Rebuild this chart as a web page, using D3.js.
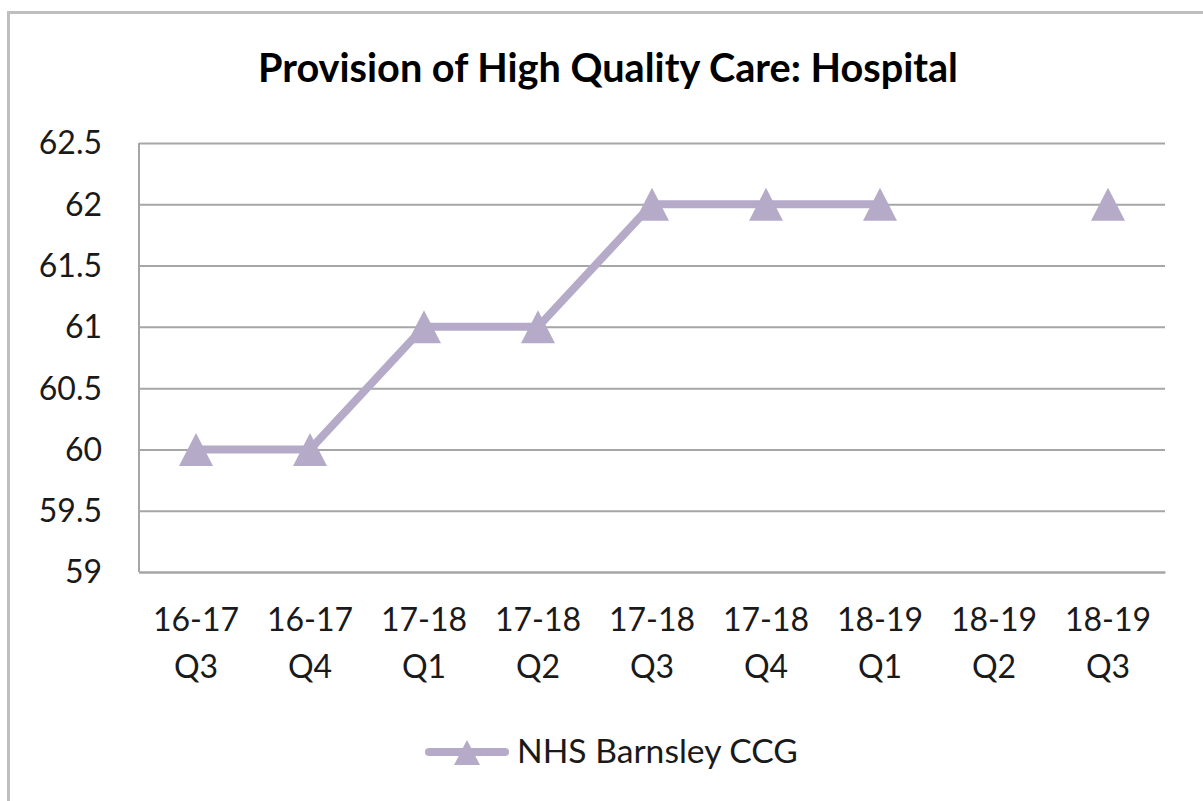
<!DOCTYPE html>
<html>
<head>
<meta charset="utf-8">
<script src="https://cdn.jsdelivr.net/npm/d3@7"></script>
<style>
  html, body { margin: 0; padding: 0; background: #ffffff; }
  svg { display: block; }
</style>
</head>
<body>
<div id="chart"></div>
<script>
// ---- Data ----
const title = "Provision of High Quality Care: Hospital";
const seriesName = "NHS Barnsley CCG";
const categories = [
  ["16-17", "Q3"], ["16-17", "Q4"], ["17-18", "Q1"], ["17-18", "Q2"],
  ["17-18", "Q3"], ["17-18", "Q4"], ["18-19", "Q1"], ["18-19", "Q2"], ["18-19", "Q3"]
];
const values = [60, 60, 61, 61, 62, 62, 62, null, 62];
const yTicks = [59, 59.5, 60, 60.5, 61, 61.5, 62, 62.5];

// ---- Layout ----
const W = 1203, H = 801;
const plot = { left: 139, right: 1165, top: 143, bottom: 572 };
const lineColor = "#b5abc9";
const gridColor = "#a6a6a6";
const textColor = "#1a1a1a";
const fontFamily = "Lato, 'Open Sans', 'Liberation Sans', sans-serif";

const svg = d3.select("#chart").append("svg")
  .attr("width", W).attr("height", H);

svg.append("rect").attr("width", W).attr("height", H).attr("fill", "#fff");

// outer chart border (extends beyond right/bottom edge)
svg.append("rect")
  .attr("x", 8.5).attr("y", 12.5)
  .attr("width", W + 50).attr("height", H + 50)
  .attr("fill", "none").attr("stroke", "#bfbfbf").attr("stroke-width", 3);

const x = d3.scaleBand()
  .domain(categories.map((d, i) => i))
  .range([plot.left, plot.right])
  .padding(0);

const y = d3.scaleLinear()
  .domain([59, 62.5])
  .range([plot.bottom, plot.top]);

// gridlines
const yAxis = d3.axisLeft(y).tickValues(yTicks)
  .tickSize(-(plot.right - plot.left)).tickPadding(37)
  .tickFormat(d => d3.format("")(d));
const gy = svg.append("g").attr("transform", `translate(${plot.left},0)`).call(yAxis);
gy.select(".domain").remove();
gy.selectAll(".tick line").attr("stroke", gridColor).attr("stroke-width", 2);
gy.selectAll(".tick text")
  .attr("fill", textColor)
  .style("font-family", fontFamily)
  .style("font-size", "32px")
  .attr("dy", "0.34em");

// left axis line
svg.append("line")
  .attr("x1", plot.left).attr("x2", plot.left)
  .attr("y1", plot.top).attr("y2", plot.bottom)
  .attr("stroke", gridColor).attr("stroke-width", 2);

// x axis
const xAxis = d3.axisBottom(x).tickSize(0).tickFormat(() => "");
const gx = svg.append("g").attr("transform", `translate(0,${plot.bottom})`).call(xAxis);
gx.select(".domain").attr("stroke", gridColor).attr("stroke-width", 2);
gx.selectAll(".tick").each(function(d) {
  const t = d3.select(this).select("text");
  t.text(null)
    .attr("y", 0).attr("dy", null)
    .attr("fill", textColor)
    .style("font-family", fontFamily)
    .style("font-size", "32px");
  t.append("tspan").attr("x", 0).attr("y", 59).text(categories[d][0]);
  t.append("tspan").attr("x", 0).attr("y", 106).text(categories[d][1]);
});

// line
const line = d3.line()
  .defined(d => d.v !== null)
  .x(d => x(d.i) + x.bandwidth() / 2)
  .y(d => y(d.v));
const pts = values.map((v, i) => ({ i, v }));
svg.append("path")
  .datum(pts)
  .attr("d", line)
  .attr("fill", "none")
  .attr("stroke", lineColor)
  .attr("stroke-width", 8)
  .attr("stroke-linejoin", "round")
  .attr("stroke-linecap", "round");

// triangle markers
const tri = (w, h) => `M0,${-h / 2}L${w / 2},${h / 2}L${-w / 2},${h / 2}Z`;
svg.append("g").selectAll("path")
  .data(pts.filter(d => d.v !== null))
  .join("path")
  .attr("d", tri(34, 33))
  .attr("transform", d => `translate(${x(d.i) + x.bandwidth() / 2},${y(d.v)})`)
  .attr("fill", lineColor);

// title
const tt = svg.append("text")
  .attr("x", 608).attr("y", 82)
  .attr("text-anchor", "middle")
  .attr("fill", "#000")
  .style("font-family", fontFamily)
  .style("font-weight", "bold")
  .style("font-size", "36px")
  .text(title);
{
  const len = tt.node().getComputedTextLength();
  tt.style("font-size", (36 * 700 / len).toFixed(2) + "px");
}

// legend
const lg = svg.append("g");
lg.append("line")
  .attr("x1", 429).attr("x2", 505).attr("y1", 752).attr("y2", 752)
  .attr("stroke", lineColor).attr("stroke-width", 8).attr("stroke-linecap", "round");
lg.append("path").attr("d", tri(26, 25))
  .attr("transform", "translate(467,752.5)").attr("fill", lineColor);
const lt = lg.append("text")
  .attr("x", 517).attr("y", 763)
  .attr("fill", textColor)
  .style("font-family", fontFamily)
  .style("font-size", "32px")
  .text(seriesName);
{
  const len = lt.node().getComputedTextLength();
  lt.style("font-size", (32 * 281 / len).toFixed(2) + "px");
}
</script>
</body>
</html>
